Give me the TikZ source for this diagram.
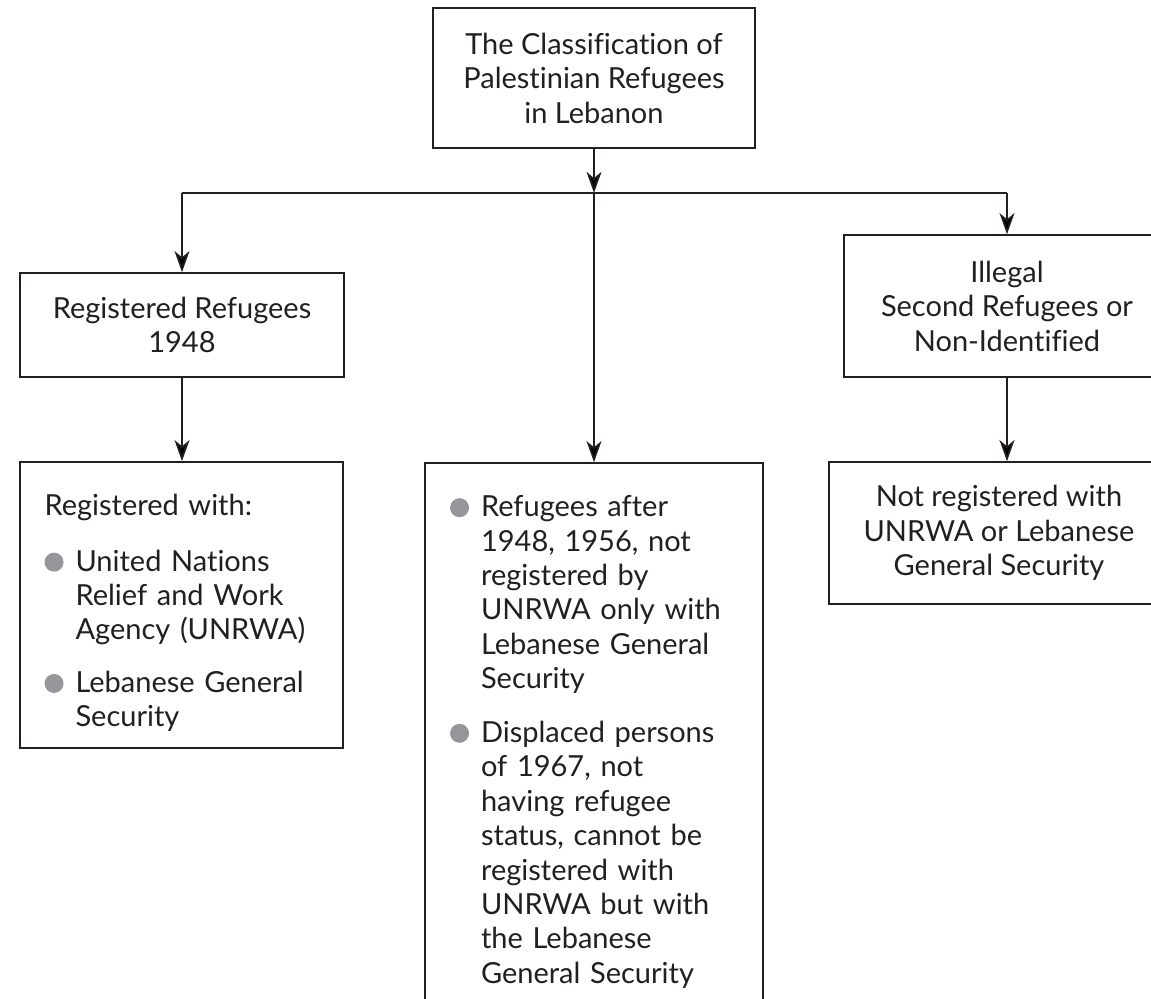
\documentclass[tikz,border=0pt]{standalone}
\usepackage{fontspec}
\setmainfont{Lato}[Ligatures=NoCommon]
\usetikzlibrary{arrows.meta,positioning}
\definecolor{inkdark}{RGB}{35,31,32}
\definecolor{dotgray}{RGB}{150,150,154}
% grey bullet and the matching hanging indent
\newcommand{\dotitem}{\makebox[0.62cm][l]{\tikz[baseline=-0.18cm]\fill[dotgray] (0,0) circle (0.19cm);}}
\newcommand{\dotpad}{\hspace*{0.62cm}}
\begin{document}
\begin{tikzpicture}[
    every node/.style={font=\fontsize{16.5}{19.6}\selectfont, text=inkdark},
    classbox/.style={draw=inkdark, line width=0.9pt, inner sep=0pt, align=center},
    listtext/.style={anchor=north west, inner sep=0pt, text width=7cm, align=left},
    flowline/.style={draw=inkdark, line width=1pt},
    flowarrow/.style={flowline, -{Stealth[length=12pt,width=8.5pt,inset=3.5pt]}}
  ]
    \useasboundingbox (0,0) rectangle (23.02,-19.98);
    \clip (0,0) rectangle (23.02,-19.98);

    % boxes
    \node[classbox, minimum width=6.44cm, minimum height=2.8cm] (top) at (11.88,-1.56)
      {The Classification of\\Palestinian Refugees\\in Lebanon};
    \node[classbox, minimum width=6.48cm, minimum height=2.08cm] (reg) at (3.64,-6.5)
      {Registered Refugees\\1948};
    \node[classbox, minimum width=6.46cm, minimum height=5.72cm] (regwith) at (3.63,-12.1) {};
    \node[classbox, minimum width=6.76cm, minimum height=11.34cm] (mid) at (11.88,-14.93) {};
    \node[classbox, minimum width=6.52cm, minimum height=2.84cm] (illegal) at (20.14,-6.12)
      {Illegal\\Second Refugees or\\Non-Identified};
    \node[classbox, minimum width=6.8cm, minimum height=2.84cm] (notreg) at (19.98,-10.66)
      {Not registered with\\UNRWA or Lebanese\\General Security};

    % box texts
    \node[listtext] (regtext) at ([shift={(0.5,-0.6)}]regwith.north west)
      {\strut Registered with:\\[0.42cm]
       \dotitem United Nations\\ \dotpad Relief and Work\\ \dotpad Agency (UNRWA)\\[0.36cm]
       \dotitem Lebanese General\\ \dotpad Security};
    \node[listtext] (midtext) at ([shift={(0.51,-0.6)}]mid.north west)
      {\strut\dotitem Refugees after\\ \dotpad 1948, 1956, not\\ \dotpad registered by\\
       \dotpad UNRWA only with\\ \dotpad Lebanese General\\ \dotpad Security\\[0.38cm]
       \dotitem Displaced persons\\ \dotpad of 1967, not\\ \dotpad having refugee\\
       \dotpad status, cannot be\\ \dotpad registered with\\ \dotpad UNRWA but with\\
       \dotpad the Lebanese\\ \dotpad General Security};

    % connectors
    \coordinate (split) at (top.south |- 0,-3.86);
    \coordinate (jleft) at (reg.north |- split);
    \coordinate (jright) at (illegal.north |- split);
    \draw[flowarrow] (top.south) -- (split);
    \draw[flowline] (jleft) -- (jright);
    \draw[flowarrow] (jleft) -- (reg.north);
    \draw[flowarrow] (split) -- (mid.north);
    \draw[flowarrow] (jright) -- (illegal.north);
    \draw[flowarrow] (reg.south) -- (reg.south |- regwith.north);
    \draw[flowarrow] (illegal.south) -- (illegal.south |- notreg.north);
\end{tikzpicture}
\end{document}
